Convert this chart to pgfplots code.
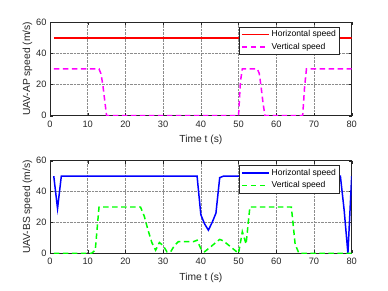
\documentclass[border=0pt]{standalone}
\usepackage{pgfplots}
\pgfplotsset{compat=1.18}
\usepackage{fontspec}
\setmainfont{Liberation Sans}
\definecolor{mred}{RGB}{255,0,0}
\definecolor{mmag}{RGB}{255,0,255}
\definecolor{mblue}{RGB}{0,0,255}
\definecolor{mgreen}{RGB}{0,255,0}
\definecolor{mtxt}{RGB}{38,38,38}
\begin{document}
\begin{tikzpicture}[x=1bp,y=1bp]
\useasboundingbox (0,0) rectangle (388,291);
\pgfplotsset{
  myax/.style={
    scale only axis, width=301.7bp, height=93.5bp,
    xmin=0, xmax=80, ymin=0, ymax=60,
    xtick={0,10,...,80}, ytick={0,20,40,60},
    tick align=inside, tick pos=both,
    major tick length=3bp,
    grid=major, grid style={densely dotted, black!45, line width=0.45pt},
    axis line style={mtxt, line width=0.5pt},
    tick style={mtxt},
    /pgf/number format/assume math mode=true,
    tick label style={font=\fontsize{9.3}{11}\selectfont, text=mtxt},
    xticklabel style={yshift=-1.5bp},
    label style={font=\fontsize{10.3}{12}\selectfont, text=mtxt},
    xlabel={Time t (s)},
    xlabel style={yshift=-1bp},
    ylabel style={yshift=-3bp},
    legend style={at={(0.96,0.95)}, anchor=north east, draw=mtxt, line width=0.5pt,
      font=\fontsize{8.6}{10}\selectfont, inner sep=1.5pt, row sep=1pt,
      legend cell align=left},
    legend image code/.code={\draw[#1, line width=1.6pt] (0,0) -- (0.95cm,0);},
  }
}
\begin{axis}[myax, at={(50bp,175.3bp)}, anchor=south west, ylabel={UAV-AP speed (m/s)}]
\addplot[mred, line width=1.5pt] coordinates {(1,50) (80,50)};
\addlegendentry{Horizontal speed}
\addplot[mmag, line width=1.5pt, dash pattern=on 5.5bp off 3.5bp] coordinates {
(1,30) (13,30) (13.5,27) (14,20) (14.5,10) (15,0) (50,0) (50.5,22) (51,30) (55,30) (55.5,27) (56,18) (56.5,8) (57,0) (67,0) (67.5,18) (68,30) (80,30)};
\addlegendentry{Vertical speed}
\end{axis}
\begin{axis}[myax, at={(50bp,37.7bp)}, anchor=south west, height=92.6bp, ylabel={UAV-BS speed (m/s)}]
\addplot[mblue, line width=1.5pt] coordinates {
(1,50) (2,29) (3,50) (39,50) (40,25) (41,19) (42,15) (43,20) (44,26) (45,49) (46,50) (77,50) (78,28) (79,0) (80,50)};
\addlegendentry{Horizontal speed}
\addplot[mgreen, line width=1.5pt, dash pattern=on 5.5bp off 3.5bp] coordinates {
(1,0) (11,0) (12,2) (13,30) (24,30) (25,24) (26,15) (27,7) (28,2) (29,7) (30,5) (31,1) (32,1) (33,5) (34,7.5) (38,7.5) (39,8.5) (40,3) (41,1) (42,3) (43,5) (44,7) (45,9) (46,8) (47,6) (48,4) (49,2) (50,0) (51,14) (52,6) (53,30) (64,30) (65,6) (66,0) (80,0)};
\addlegendentry{Vertical speed}
\end{axis}
\end{tikzpicture}
\end{document}
